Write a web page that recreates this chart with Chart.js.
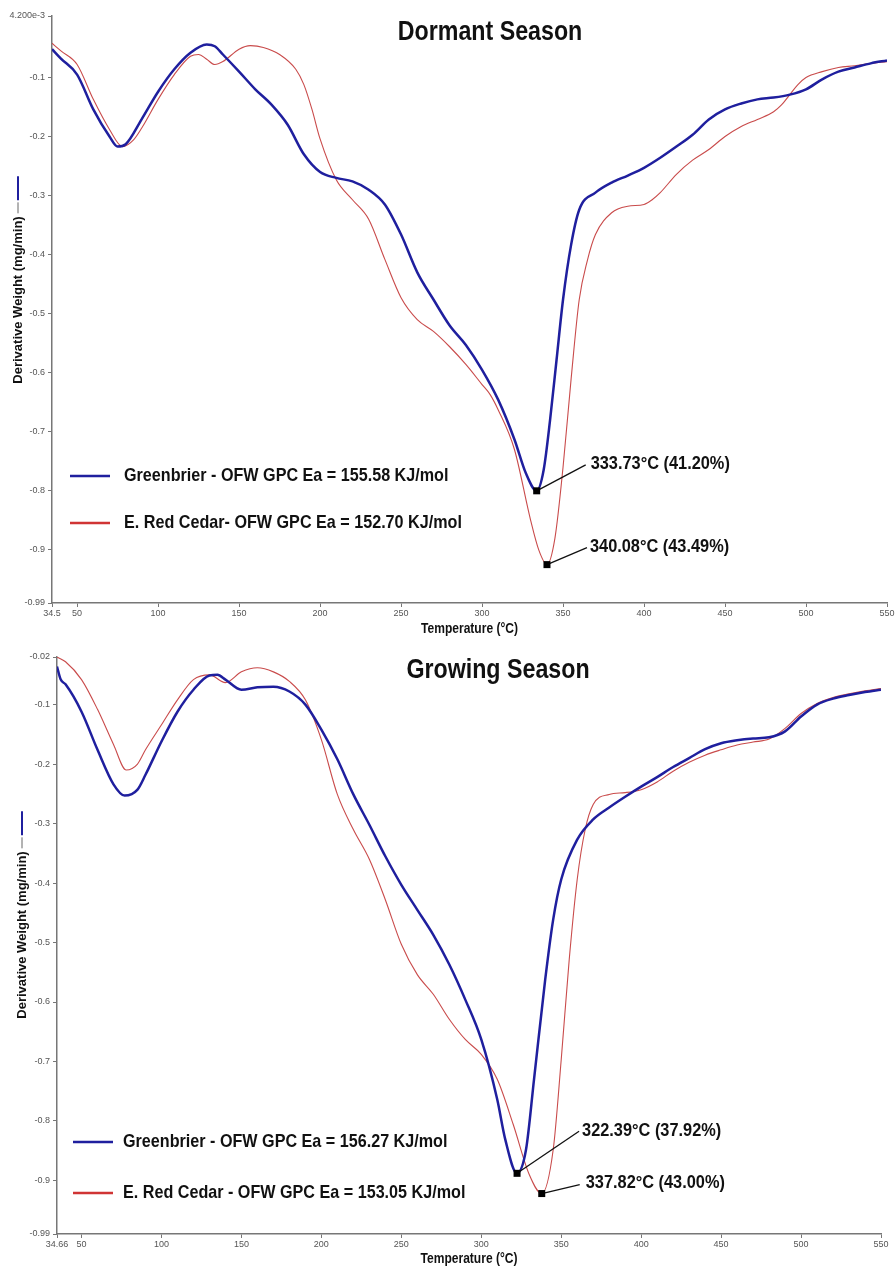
<!DOCTYPE html>
<html><head><meta charset="utf-8">
<script src="https://cdn.jsdelivr.net/npm/chart.js@4.4.1/dist/chart.umd.min.js"></script>
<style>
html,body{margin:0;padding:0;background:#fff;}
#c1{position:absolute;left:0;top:0;}
#c2{position:absolute;left:0;top:640px;}
</style></head><body>
<canvas id="c1" width="896" height="640"></canvas>
<canvas id="c2" width="896" height="626"></canvas>
<script>
// ---------- Dormant season ----------
const dormantTitle = 'Dormant Season';
const dormantXTicks = [34.5,50,100,150,200,250,300,350,400,450,500,550];
const dormantXTickLabels = ['34.5','50','100','150','200','250','300','350','400','450','500','550'];
const dormantYTicks = [0.0042,-0.1,-0.2,-0.3,-0.4,-0.5,-0.6,-0.7,-0.8,-0.9,-0.99];
const dormantYTickLabels = ['4.200e-3','-0.1','-0.2','-0.3','-0.4','-0.5','-0.6','-0.7','-0.8','-0.9','-0.99'];
const dormantGreenT = [34.5,40,50,60,70,75,80,90,100,110,120,130,135,140,150,160,170,180,190,200,210,220,230,240,250,260,270,280,290,300,310,320,327,333.73,338,342,346,350,355,360,370,380,390,400,410,420,430,440,450,460,470,480,490,500,510,520,530,540,550];
const dormantGreenV = [-0.052,-0.068,-0.095,-0.154,-0.2,-0.217,-0.213,-0.17,-0.124,-0.086,-0.058,-0.044,-0.047,-0.061,-0.09,-0.12,-0.146,-0.18,-0.23,-0.26,-0.27,-0.276,-0.29,-0.315,-0.366,-0.43,-0.476,-0.52,-0.553,-0.595,-0.646,-0.713,-0.77,-0.8,-0.765,-0.68,-0.578,-0.476,-0.383,-0.324,-0.295,-0.278,-0.266,-0.253,-0.236,-0.217,-0.197,-0.171,-0.154,-0.144,-0.137,-0.134,-0.129,-0.12,-0.103,-0.09,-0.083,-0.076,-0.071];
const dormantCedarT = [34.5,40,50,60,70,78,85,90,100,110,120,125,130,135,140,150,157,165,175,185,190,195,200,210,220,230,240,250,260,270,280,290,300,305,310,320,330,335,340.08,345,350,355,360,365,370,380,390,400,405,410,420,430,440,450,460,470,480,485,490,495,500,510,520,530,540,550];
const dormantCedarV = [-0.042,-0.055,-0.078,-0.137,-0.188,-0.217,-0.205,-0.185,-0.137,-0.095,-0.064,-0.061,-0.069,-0.078,-0.073,-0.052,-0.046,-0.049,-0.061,-0.086,-0.112,-0.154,-0.204,-0.273,-0.307,-0.34,-0.408,-0.473,-0.51,-0.53,-0.556,-0.586,-0.62,-0.637,-0.663,-0.73,-0.85,-0.9,-0.925,-0.88,-0.76,-0.61,-0.476,-0.41,-0.366,-0.329,-0.318,-0.315,-0.307,-0.295,-0.264,-0.24,-0.222,-0.2,-0.183,-0.171,-0.158,-0.146,-0.129,-0.112,-0.1,-0.09,-0.083,-0.08,-0.076,-0.073];
const dormantLabels = ['Greenbrier - OFW GPC Ea = 155.58 KJ/mol','E. Red Cedar- OFW GPC Ea = 152.70 KJ/mol'];
const dormantPeakT = [333.73, 340.08];
const dormantPeakV = [-0.8, -0.925];
const dormantPeakLabels = ['333.73°C (41.20%)','340.08°C (43.49%)'];

// ---------- Growing season ----------
const growingTitle = 'Growing Season';
const growingXTicks = [34.66,50,100,150,200,250,300,350,400,450,500,550];
const growingXTickLabels = ['34.66','50','100','150','200','250','300','350','400','450','500','550'];
const growingYTicks = [-0.02,-0.1,-0.2,-0.3,-0.4,-0.5,-0.6,-0.7,-0.8,-0.9,-0.99];
const growingYTickLabels = ['-0.02','-0.1','-0.2','-0.3','-0.4','-0.5','-0.6','-0.7','-0.8','-0.9','-0.99'];
const growingGreenT = [34.66,37,40,50,60,70,77,85,90,100,110,120,130,135,140,150,160,170,180,190,200,210,220,230,240,250,260,270,280,290,300,310,315,322.39,328,333,340,345,350,360,370,380,390,400,410,420,430,440,450,460,470,480,490,500,510,520,530,540,550];
const growingGreenV = [-0.036,-0.058,-0.066,-0.112,-0.176,-0.234,-0.253,-0.243,-0.218,-0.162,-0.112,-0.075,-0.051,-0.05,-0.058,-0.075,-0.071,-0.07,-0.078,-0.1,-0.142,-0.192,-0.251,-0.302,-0.355,-0.403,-0.445,-0.487,-0.537,-0.596,-0.663,-0.764,-0.831,-0.888,-0.848,-0.73,-0.562,-0.461,-0.394,-0.327,-0.293,-0.273,-0.255,-0.238,-0.222,-0.205,-0.19,-0.175,-0.165,-0.16,-0.157,-0.155,-0.145,-0.12,-0.1,-0.09,-0.084,-0.079,-0.075];
const growingCedarT = [34.66,40,50,60,70,78,85,90,100,110,120,130,140,150,160,170,180,190,200,210,220,230,240,250,260,270,280,290,300,310,320,330,337.82,345,350,355,360,365,370,380,390,400,410,420,430,440,450,460,470,480,490,500,510,520,530,540,550];
const growingCedarV = [-0.02,-0.028,-0.058,-0.108,-0.167,-0.21,-0.2,-0.176,-0.134,-0.092,-0.058,-0.05,-0.063,-0.045,-0.038,-0.045,-0.061,-0.092,-0.159,-0.251,-0.31,-0.36,-0.428,-0.503,-0.554,-0.587,-0.629,-0.663,-0.688,-0.73,-0.806,-0.89,-0.922,-0.848,-0.697,-0.529,-0.394,-0.31,-0.268,-0.251,-0.248,-0.243,-0.23,-0.212,-0.197,-0.185,-0.176,-0.168,-0.163,-0.158,-0.14,-0.115,-0.098,-0.088,-0.082,-0.077,-0.073];
const growingLabels = ['Greenbrier - OFW GPC Ea = 156.27 KJ/mol','E. Red Cedar - OFW GPC Ea = 153.05 KJ/mol'];
const growingPeakT = [322.39, 337.82];
const growingPeakV = [-0.888, -0.922];
const growingPeakLabels = ['322.39°C (37.92%)','337.82°C (43.00%)'];

const BLUE = '#1f1f9e', RED = '#c94b4b', RED_LEG = '#d03434';
const FF = "'Liberation Sans', Arial, sans-serif";
Chart.defaults.font.family = FF;
Chart.defaults.animation = false;

const zip = (t, v) => t.map((x, i) => ({x: x, y: v[i]}));

function txt(ctx, s, x, y, font, align, sx) {
  ctx.save();
  ctx.translate(x, y);
  ctx.scale(sx, 1);
  ctx.font = font; ctx.textAlign = align; ctx.textBaseline = 'middle';
  ctx.fillText(s, 0, 0);
  ctx.restore();
}

const decor = {
  id: 'decor',
  afterDraw(chart, args, o) {
    const ctx = chart.ctx, xs = chart.scales.x, ys = chart.scales.y;
    ctx.save();
    ctx.fillStyle = '#111';
    txt(ctx, o.title, o.titleX, o.titleY, 'bold 27px ' + FF, 'center', 0.86);
    txt(ctx, 'Temperature (°C)', (chart.chartArea.left + chart.chartArea.right) / 2, o.xTitleY, 'bold 14px ' + FF, 'center', 0.86);
    ctx.save();
    ctx.translate(o.yTitleX, o.yTitleY);
    ctx.rotate(-Math.PI / 2);
    ctx.font = 'bold 13px ' + FF;
    ctx.textAlign = 'center'; ctx.textBaseline = 'middle';
    ctx.fillText('Derivative Weight (mg/min)', 0, 0);
    const w = ctx.measureText('Derivative Weight (mg/min)').width;
    ctx.lineWidth = 1; ctx.strokeStyle = '#666';
    ctx.beginPath(); ctx.moveTo(w / 2 + 3, 0); ctx.lineTo(w / 2 + 14, 0); ctx.stroke();
    ctx.lineWidth = 2; ctx.strokeStyle = BLUE;
    ctx.beginPath(); ctx.moveTo(w / 2 + 16, 0); ctx.lineTo(w / 2 + 40, 0); ctx.stroke();
    ctx.restore();
    chart.data.datasets.forEach((ds, i) => {
      const ly = o.legY[i];
      ctx.strokeStyle = i === 0 ? BLUE : RED_LEG; ctx.lineWidth = 2.5;
      ctx.beginPath(); ctx.moveTo(o.legX1, ly); ctx.lineTo(o.legX2, ly); ctx.stroke();
      ctx.fillStyle = '#111';
      txt(ctx, ds.label, o.legTextX, ly, 'bold 19px ' + FF, 'left', 0.85);
    });
    o.peakT.forEach((t, i) => {
      const px = xs.getPixelForValue(t), py = ys.getPixelForValue(o.peakV[i]);
      const off = o.peakOff[i];
      ctx.strokeStyle = '#111'; ctx.lineWidth = 1.3;
      ctx.beginPath(); ctx.moveTo(px, py); ctx.lineTo(px + off[0], py + off[1]); ctx.stroke();
      ctx.fillStyle = '#000';
      ctx.fillRect(px - 3.5, py - 3.5, 7, 7);
      ctx.fillStyle = '#111';
      txt(ctx, o.peakLabels[i], px + off[2], py + off[3], 'bold 19px ' + FF, 'left', 0.86);
    });
    ctx.restore();
  }
};

function makeChart(id, cfg) {
  return new Chart(document.getElementById(id), {
    type: 'line',
    data: {
      datasets: [
        {label: cfg.labels[0], data: zip(cfg.gT, cfg.gV), borderColor: BLUE, borderWidth: 2.5, pointRadius: 0, cubicInterpolationMode: 'monotone', fill: false},
        {label: cfg.labels[1], data: zip(cfg.cT, cfg.cV), borderColor: RED, borderWidth: 1.1, pointRadius: 0, cubicInterpolationMode: 'monotone', fill: false}
      ]
    },
    options: {
      responsive: false,
      animation: false,
      layout: {padding: cfg.padding},
      plugins: {
        legend: {display: false}, tooltip: {enabled: false},
        decor: cfg.decor
      },
      scales: {
        x: {
          type: 'linear', min: cfg.xTicks[0], max: 550,
          afterBuildTicks: s => { s.ticks = cfg.xTicks.map(v => ({value: v})); },
          afterFit: s => { s.height = cfg.xH; },
          ticks: {autoSkip: false, maxRotation: 0, padding: 1, color: '#555', font: {size: 9},
            callback: (v, i) => cfg.xTickLabels[i]},
          grid: {drawOnChartArea: false, tickLength: 4, color: '#777'},
          border: {color: '#777', width: 1.5},
          title: {display: false}
        },
        y: {
          type: 'linear', min: -0.99, max: cfg.yTicks[0],
          afterBuildTicks: s => { s.ticks = cfg.yTicks.map(v => ({value: v})); },
          afterFit: s => { s.width = cfg.yW; },
          ticks: {autoSkip: false, padding: 3, color: '#555', font: {size: 9},
            callback: (v, i) => cfg.yTickLabels[i]},
          grid: {drawOnChartArea: false, tickLength: 4, color: '#777'},
          border: {color: '#777', width: 1.5}
        }
      }
    },
    plugins: [decor]
  });
}

makeChart('c1', {
  labels: dormantLabels, gT: dormantGreenT, gV: dormantGreenV, cT: dormantCedarT, cV: dormantCedarV,
  xTicks: dormantXTicks, xTickLabels: dormantXTickLabels, yTicks: dormantYTicks, yTickLabels: dormantYTickLabels,
  padding: {top: 16, right: 9, left: 0, bottom: 0}, xH: 37, yW: 52,
  decor: {title: dormantTitle, titleX: 490, titleY: 33, xTitleY: 629, yTitleX: 18, yTitleY: 300,
    legX1: 70, legX2: 110, legTextX: 124, legY: [476, 523],
    peakT: dormantPeakT, peakV: dormantPeakV, peakLabels: dormantPeakLabels,
    peakOff: [[49, -26, 54, -27], [40, -17, 43, -18]]}
});
makeChart('c2', {
  labels: growingLabels, gT: growingGreenT, gV: growingGreenV, cT: growingCedarT, cV: growingCedarV,
  xTicks: growingXTicks, xTickLabels: growingXTickLabels, yTicks: growingYTicks, yTickLabels: growingYTickLabels,
  padding: {top: 17, right: 15, left: 0, bottom: 0}, xH: 32, yW: 57,
  decor: {title: growingTitle, titleX: 498, titleY: 31, xTitleY: 619, yTitleX: 22, yTitleY: 295,
    legX1: 73, legX2: 113, legTextX: 123, legY: [502, 553],
    peakT: growingPeakT, peakV: growingPeakV, peakLabels: growingPeakLabels,
    peakOff: [[62, -42, 65, -43], [38, -9, 44, -11]]}
});
</script>
</body></html>
